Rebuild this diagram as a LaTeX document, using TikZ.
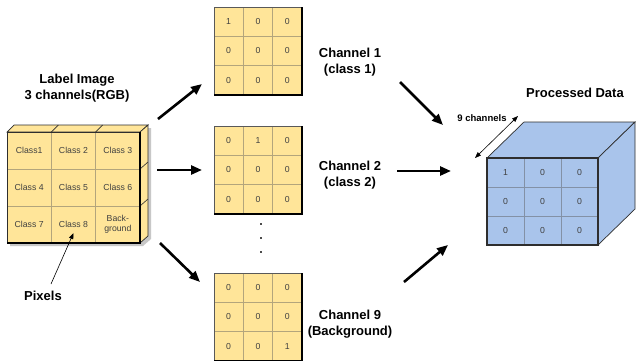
\documentclass[tikz,border=0pt]{standalone}
\usepackage{fontspec}
\setmainfont{Liberation Sans}
\usetikzlibrary{arrows.meta,calc}
\definecolor{cellyellow}{HTML}{FFE599}
\definecolor{cellblue}{HTML}{A9C4EB}
\definecolor{gridtan}{HTML}{B3A57C}
\definecolor{gridblue}{HTML}{8391A6}
\definecolor{edgedark}{HTML}{2E2E2E}
\definecolor{textgray}{HTML}{404040}

\begin{document}
\begin{tikzpicture}[x=1pt,y=-1pt,
  lbl/.style={font=\fontsize{13}{15.5}\selectfont\bfseries, align=center, inner sep=0pt},
  smalllbl/.style={font=\fontsize{9.5}{11}\selectfont\bfseries, inner sep=0pt},
  celltxt/.style={font=\fontsize{8.7}{10}\selectfont, text=textgray, align=center, inner sep=0pt},
  ycell/.style={rectangle, fill=cellyellow, draw=gridtan, line width=0.8pt},
  bcell/.style={rectangle, fill=cellblue, draw=gridblue, line width=0.8pt},
  bigarrow/.style={line width=2.6pt, -{Triangle[length=11pt,width=9pt]}},
  thinarrow/.style={line width=0.6pt, -{Triangle[length=6pt,width=4.5pt]}},
  dblarrow/.style={line width=0.6pt, {Triangle[length=6pt,width=4.5pt]}-{Triangle[length=6pt,width=4.5pt]}},
  faceline/.style={draw=edgedark, line width=0.7pt},
]
\useasboundingbox (0,0) rectangle (637,360);
\fill[white] (0,0) rectangle (637,360);

% ---------- Label image: a 3x3 block of pixel cubes ----------
\def\lw{44.33}\def\lh{37}
% soft shadow
\fill[black!22] (10,246) -- (143,246) -- (151,239) -- (151,128) -- (148,128) -- (148,236) -- (140,243) -- (10,243) -- cycle;
% top face and side face
\filldraw[fill=cellyellow, faceline] (7,132) -- (14,125) -- (148,125) -- (140,132) -- cycle;
\filldraw[fill=cellyellow, faceline] (140,132) -- (148,125) -- (148,236) -- (140,243) -- cycle;
\foreach \i in {1,2} {
  \draw[edgedark, line width=0.6pt] ({7+\i*\lw},132) -- ({14+\i*\lw},125);
  \draw[edgedark, line width=0.6pt] (140,{132+\i*\lh}) -- (148,{125+\i*\lh});
}
\foreach \t [count=\k from 0] in {Class1,Class 2,Class 3,Class 4,Class 5,Class 6,Class 7,Class 8,Back-\\ground} {
  \pgfmathtruncatemacro\r{int(\k/3)}
  \pgfmathtruncatemacro\c{mod(\k,3)}
  \node[ycell, minimum width=\lw pt, minimum height=\lh pt, celltxt]
    (L-\r-\c) at ({7+(\c+0.5)*\lw},{132+(\r+0.5)*\lh}) {\t};
}
\draw[edgedark, line width=0.9pt] (7,132) rectangle (140,243);
\draw[black, line width=1.6pt] (7,243) -- (140,243) -- (140,132);

\node[lbl] (title-left) at (77,88) {Label Image\\3 channels(RGB)};
\node[lbl] (pixels) at (43,296) {Pixels};
\coordinate (pixels-tail) at (51,284);
\draw[thinarrow] (pixels-tail) -- ($(L-2-1.center)!0.45!(L-2-1.south)$);

% ---------- One-hot channel grids ----------
\def\gw{29.33}
\foreach \g/\top/\vals in {A/7/{1,0,0,0,0,0,0,0,0}, B/126/{0,1,0,0,0,0,0,0,0}, C/273/{0,0,0,0,0,0,0,0,1}} {
  \foreach \v [count=\k from 0] in \vals {
    \pgfmathtruncatemacro\r{int(\k/3)}
    \pgfmathtruncatemacro\c{mod(\k,3)}
    \node[ycell, minimum width=\gw pt, minimum height=\gw pt, celltxt]
      (\g-\r-\c) at ({214+(\c+0.5)*\gw},{\top+(\r+0.5)*\gw}) {\v};
  }
  \draw[black!65, line width=0.8pt] (214,\top) rectangle (302,{\top+88});
  \draw[black, line width=1.6pt] (214,{\top+88}) -- (302,{\top+88}) -- (302,\top);
}

% ellipsis between channel 2 and channel 9
\foreach \y [count=\n] in {224,238,252}
  \node[fill=black!70, inner sep=0pt, minimum size=1.8pt] (dot\n) at (261,\y) {};

\node[lbl] (ch1) at (350,62) {Channel 1\\(class 1)};
\node[lbl] (ch2) at (350,175) {Channel 2\\(class 2)};
\node[lbl] (ch9) at (350,324) {Channel 9\\(Background)};

% arrows from the label image to the channels
\coordinate (s1) at (158,119); \coordinate (e1) at (202,84);
\coordinate (s2) at (157,170); \coordinate (e2) at (202,170);
\coordinate (s3) at (160,243); \coordinate (e3) at (200,282);
\draw[bigarrow] (s1) -- (e1);
\draw[bigarrow] (s2) -- (e2);
\draw[bigarrow] (s3) -- (e3);

% arrows from the channels to the processed data
\coordinate (t1) at (400,82);  \coordinate (f1) at (443,125);
\coordinate (t2) at (397,171); \coordinate (f2) at (451,171);
\coordinate (t3) at (404,282); \coordinate (f3) at (448,245);
\draw[bigarrow] (t1) -- (f1);
\draw[bigarrow] (t2) -- (f2);
\draw[bigarrow] (t3) -- (f3);

% ---------- Processed data: stacked channel volume ----------
\filldraw[fill=cellblue, faceline] (487,158) -- (524,122) -- (635,122) -- (598,158) -- cycle;
\filldraw[fill=cellblue, faceline] (598,158) -- (635,122) -- (635,209) -- (598,245) -- cycle;
\def\bw{37}\def\bh{29}
\foreach \v [count=\k from 0] in {1,0,0,0,0,0,0,0,0} {
  \pgfmathtruncatemacro\r{int(\k/3)}
  \pgfmathtruncatemacro\c{mod(\k,3)}
  \node[bcell, minimum width=\bw pt, minimum height=\bh pt, celltxt]
    (P-\r-\c) at ({487+(\c+0.5)*\bw},{158+(\r+0.5)*\bh}) {\v};
}
\draw[edgedark, line width=1.1pt] (487,158) rectangle (598,245);

\node[lbl] (title-right) at (575,93) {Processed Data};
\node[smalllbl] (depth) at (482,118) {9 channels};
\coordinate (d1) at (518,116);
\coordinate (d2) at (475,158);
\draw[dblarrow] (d1) -- (d2);
\end{tikzpicture}
\end{document}
